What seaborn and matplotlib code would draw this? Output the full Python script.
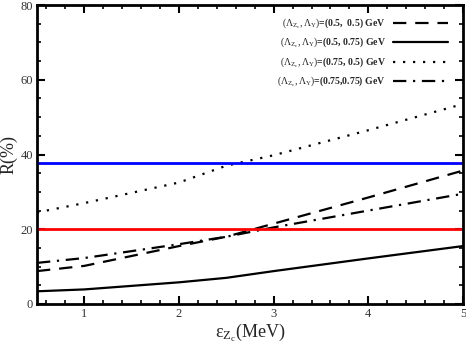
import matplotlib
matplotlib.use("Agg")
import matplotlib.pyplot as plt
import seaborn as sns
import pandas as pd
from matplotlib.ticker import MultipleLocator

sns.set_theme(style="white")
plt.rcParams['font.family'] = ['Liberation Serif', 'DejaVu Serif']
plt.rcParams['mathtext.fontset'] = 'custom'
plt.rcParams['mathtext.rm'] = 'Liberation Serif'
plt.rcParams['mathtext.it'] = 'Liberation Serif:italic'
plt.rcParams['mathtext.bf'] = 'Liberation Serif:bold'

eps = [0.5, 1.0, 2.0, 2.5, 3.0, 4.0, 5.0]
r_05_05 = [8.8, 10.2, 15.5, 18.0, 21.5, 28.5, 35.7]
r_05_075 = [3.4, 3.9, 5.8, 7.0, 8.8, 12.2, 15.5]
r_075_05 = [24.5, 27.0, 32.5, 37.0, 39.8, 46.5, 53.5]
r_075_075 = [11.0, 12.3, 16.0, 18.0, 20.5, 25.0, 29.5]
labels = [r"$(\mathrm{\Lambda_{Z_c},\Lambda_Y})$=(0.5,  0.5) GeV",
          r"$(\mathrm{\Lambda_{Z_c},\Lambda_Y})$=(0.5, 0.75) GeV",
          r"$(\mathrm{\Lambda_{Z_c},\Lambda_Y})$=(0.75, 0.5) GeV",
          r"$(\mathrm{\Lambda_{Z_c},\Lambda_Y})$=(0.75,0.75) GeV"]
blue_level = 37.8
red_level = 20.0

fig = plt.figure(figsize=(4.66, 3.45), dpi=100)
ax = fig.add_axes([37/466, 41/345, 426/466, 299/345])

series = [r_05_05, r_05_075, r_075_05, r_075_075]
styles = [(0, (6, 4)), '-', (0, (1, 3.5)), (0, (6, 3, 1, 3))]
for vals, lab, ls in zip(series, labels, styles):
    df = pd.DataFrame({"eps": eps, "R": vals})
    sns.lineplot(data=df, x="eps", y="R", ax=ax, color='black', lw=1.6,
                 linestyle=ls, label=lab)

ax.axhline(blue_level, color='#0000ff', lw=2)
ax.axhline(red_level, color='#ff0000', lw=2)

ax.set_xlim(0.5, 5)
ax.set_ylim(0, 80)
ax.xaxis.set_major_locator(MultipleLocator(1))
ax.xaxis.set_minor_locator(MultipleLocator(0.2))
ax.yaxis.set_major_locator(MultipleLocator(20))
ax.yaxis.set_minor_locator(MultipleLocator(5))
ax.tick_params(which='both', direction='in', top=True, right=True,
               bottom=True, left=True, labelsize=9, colors='black', labelcolor='#333333')
ax.tick_params(which='major', length=6, width=1.5, pad=3)
ax.tick_params(which='minor', length=3, width=1.2)
for s in ax.spines.values():
    s.set_linewidth(2)
    s.set_color('black')

ax.set_xlabel(r"ε$_{\mathrm{Z_c}}$(MeV)", fontsize=13)
ax.set_ylabel("R(%)", fontsize=13)
ax.xaxis.set_label_coords(0.5, -0.06)
ax.yaxis.set_label_coords(-0.045, 0.5)

leg = ax.legend(loc='upper right', frameon=False, markerfirst=False,
                prop={'weight': 'bold', 'size': 7.0}, handlelength=5.6,
                bbox_to_anchor=(0.985, 0.99), labelspacing=0.55, handletextpad=0.8)

fig.savefig("out.png", dpi=100)
